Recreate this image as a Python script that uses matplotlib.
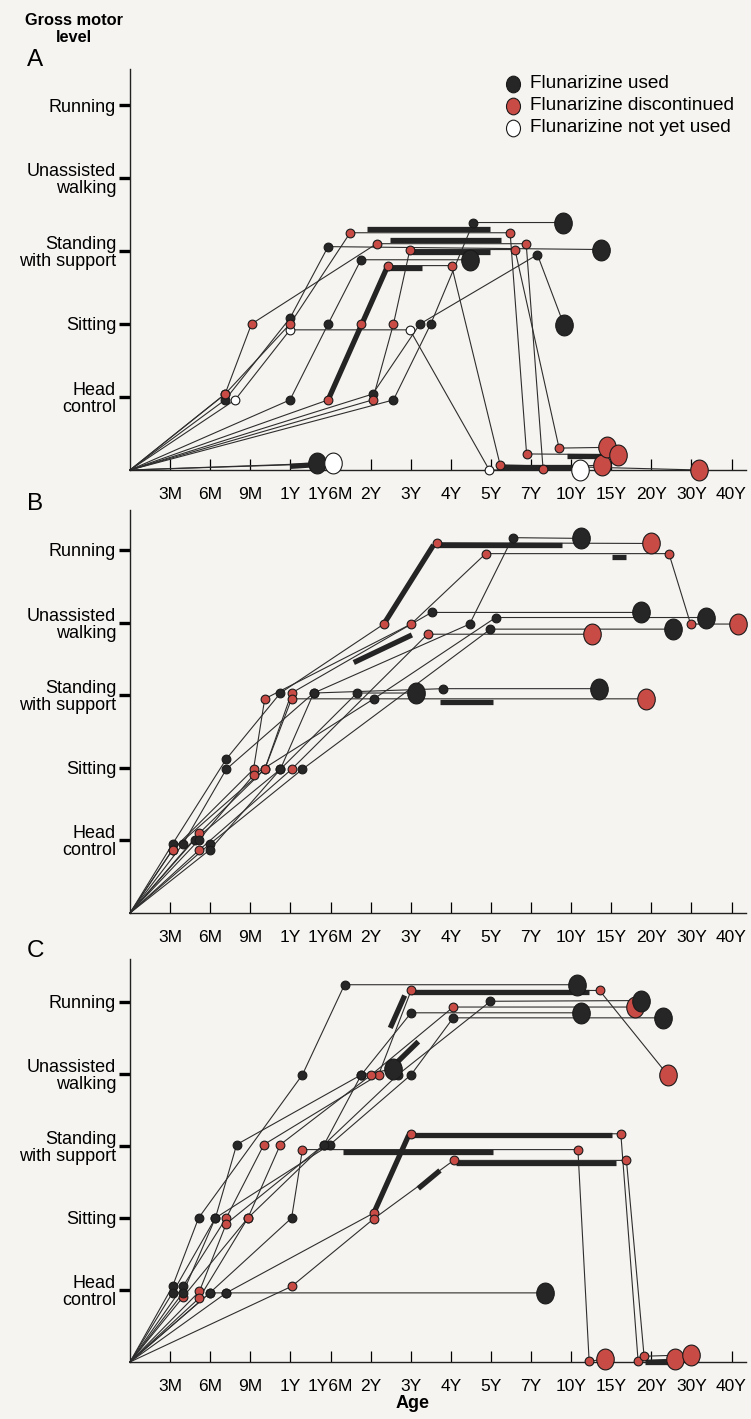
import matplotlib
matplotlib.use('Agg')
import matplotlib.pyplot as plt
from matplotlib.path import Path

plt.rcParams['font.family'] = ['Liberation Sans', 'DejaVu Sans']

# ejes: edad (posicion de categoria) y nivel motor
ages = ['3M', '6M', '9M', '1Y', '1Y6M', '2Y', '3Y', '4Y', '5Y', '7Y',
        '10Y', '15Y', '20Y', '30Y', '40Y']
levels = ['Head\ncontrol', 'Sitting', 'Standing\nwith support',
          'Unassisted\nwalking', 'Running']

# cada paciente: puntos (edad, nivel, estado); todos salen del origen
# k/r/w = punto pequeno (usado / suspendido / no usado), K/R/W = punto final grande
a_paths = [
    [(2.37, 0.96, 'k'), (3.99, 2.08, 'k'), (4.94, 3.06, 'k'), (11.75, 3.02, 'K')],
    [(2.37, 1.04, 'r'), (3.03, 2.0, 'r'), (6.15, 3.1, 'r'), (9.88, 3.1, 'r'), (10.3, 0.02, 'r'), (11.76, 0.07, 'R')],
    [(2.62, 0.96, 'w'), (3.99, 1.92, 'w'), (6.98, 1.92, 'w'), (8.96, 0.0, 'w'), (11.22, 0.0, 'W')],
    [(3.99, 0.96, 'k'), (4.94, 2.0, 'k'), (5.76, 2.88, 'k'), (8.48, 2.88, 'K')],
    [(4.94, 0.96, 'r'), (5.76, 2.0, 'r'), (6.43, 2.8, 'r'), (8.02, 2.8, 'r'), (9.23, 0.07, 'r'), (14.19, 0.0, 'R')],
    [(6.05, 1.04, 'k'), (7.23, 2.0, 'k'), (10.16, 2.95, 'k'), (10.82, 1.99, 'K')],
    [(6.05, 0.96, 'r'), (6.57, 2.0, 'r'), (6.98, 3.02, 'r'), (9.6, 3.02, 'r'), (10.7, 0.3, 'r'), (11.89, 0.31, 'R')],
    [(6.57, 0.96, 'k'), (7.5, 2.0, 'k'), (8.56, 3.39, 'k'), (10.8, 3.39, 'K')],
    [(2.37, 1.04, 'r'), (3.99, 2.0, 'r'), (5.49, 3.25, 'r'), (9.48, 3.25, 'r'), (9.89, 0.22, 'r'), (12.16, 0.21, 'R')],
    [(4.66, 0.09, 'K')],
    [(5.07, 0.09, 'W')],
]
# tramos gruesos (x0, y0, x1, y1)
a_bars = [
    (5.9, 3.3, 8.98, 3.3),
    (6.48, 3.15, 9.24, 3.15),
    (7.02, 2.99, 8.98, 2.99),
    (6.43, 2.77, 7.27, 2.77),
    (4.94, 0.96, 6.43, 2.8),
    (9.14, 0.04, 11.22, 0.04),
    (10.89, 0.19, 11.8, 0.19),
    (3.99, 0.05, 4.55, 0.07),
]

b_paths = [
    [(1.06, 0.95, 'k'), (2.4, 2.12, 'k'), (3.75, 3.03, 'k'), (6.33, 3.98, 'r'), (7.65, 5.1, 'r'), (13.0, 5.09, 'R')],
    [(1.06, 0.87, 'r'), (3.08, 1.98, 'r'), (3.36, 2.95, 'r'), (7.01, 3.98, 'r'), (8.87, 4.95, 'r'), (13.44, 4.95, 'r'), (13.98, 3.98, 'r'), (15.15, 3.98, 'R')],
    [(1.32, 0.95, 'k'), (2.4, 1.98, 'k'), (4.58, 3.03, 'k'), (8.47, 3.98, 'k'), (9.54, 5.17, 'k'), (11.24, 5.16, 'K')],
    [(1.61, 1.01, 'k'), (3.75, 1.98, 'k'), (5.66, 3.03, 'k'), (7.13, 3.03, 'K')],
    [(1.73, 1.1, 'r'), (3.36, 1.98, 'r'), (4.03, 3.03, 'r'), (7.52, 4.14, 'k'), (12.74, 4.14, 'K')],
    [(1.71, 1.0, 'k'), (3.08, 1.9, 'r'), (6.08, 2.95, 'k'), (9.12, 4.07, 'k'), (14.37, 4.07, 'K')],
    [(1.73, 0.87, 'r'), (4.03, 1.98, 'r'), (7.42, 3.84, 'r'), (11.53, 3.84, 'R')],
    [(1.99, 0.95, 'k'), (4.3, 1.98, 'k'), (8.99, 3.91, 'k'), (13.55, 3.91, 'K')],
    [(1.99, 0.87, 'k'), (3.75, 1.98, 'k'), (4.58, 3.03, 'k'), (7.81, 3.09, 'k'), (11.69, 3.09, 'K')],
    [(1.06, 0.87, 'r'), (3.36, 1.98, 'r'), (4.03, 2.95, 'r'), (12.88, 2.95, 'R')],
]
b_bars = [
    (6.33, 3.98, 7.57, 5.07),
    (7.65, 5.07, 10.78, 5.07),
    (12.02, 4.9, 12.38, 4.9),
    (5.58, 3.45, 7.03, 3.83),
    (7.73, 2.91, 9.05, 2.91),
]

c_paths = [
    [(1.06, 1.05, 'k'), (1.71, 2.0, 'k'), (4.3, 3.99, 'k'), (5.35, 5.24, 'k'), (11.14, 5.24, 'K')],
    [(1.06, 0.96, 'k'), (2.13, 2.0, 'k'), (2.66, 3.02, 'k'), (5.77, 3.99, 'k'), (7.01, 4.85, 'k'), (11.24, 4.85, 'K')],
    [(1.32, 1.05, 'k'), (2.4, 2.0, 'r'), (3.34, 3.02, 'r'), (6.2, 3.99, 'r'), (7.01, 5.16, 'r'), (11.71, 5.16, 'r'), (13.42, 3.98, 'R')],
    [(1.32, 0.9, 'r'), (2.94, 2.0, 'r'), (3.75, 3.02, 'r'), (6.02, 3.99, 'r'), (8.06, 4.93, 'r'), (12.59, 4.93, 'R')],
    [(1.73, 0.98, 'r'), (2.4, 1.92, 'r'), (4.84, 3.02, 'k'), (6.68, 3.99, 'k'), (8.99, 5.01, 'k'), (12.74, 5.02, 'K')],
    [(1.99, 0.96, 'k'), (4.03, 2.0, 'k'), (4.3, 2.95, 'r'), (11.17, 2.95, 'r'), (11.45, 0.01, 'r'), (11.84, 0.04, 'R')],
    [(2.4, 0.96, 'k'), (6.08, 2.07, 'r'), (7.01, 3.17, 'r'), (12.24, 3.17, 'r'), (12.67, 0.02, 'r'), (13.6, 0.04, 'R')],
    [(4.03, 1.05, 'r'), (6.08, 1.99, 'r'), (8.07, 2.8, 'r'), (12.38, 2.8, 'r'), (12.82, 0.08, 'r'), (13.98, 0.1, 'R')],
    [(1.99, 0.96, 'k'), (2.4, 0.96, 'k'), (10.34, 0.96, 'K')],
    [(1.32, 0.96, 'k'), (2.13, 2.0, 'k'), (4.99, 3.02, 'k'), (7.01, 3.99, 'k'), (8.06, 4.78, 'k'), (13.28, 4.78, 'K')],
    [(1.73, 0.89, 'r'), (2.94, 2.0, 'r'), (4.84, 3.02, 'k'), (5.77, 3.99, 'k'), (6.57, 4.07, 'K')],
]
c_bars = [
    (7.01, 5.14, 11.45, 5.14),
    (6.49, 4.64, 6.85, 5.09),
    (6.49, 4.07, 7.19, 4.45),
    (7.01, 3.15, 12.02, 3.15),
    (6.08, 2.07, 6.95, 3.15),
    (5.3, 2.92, 9.05, 2.92),
    (8.12, 2.77, 12.12, 2.77),
    (7.19, 2.41, 7.73, 2.66),
    (12.84, 0.0, 13.57, 0.0),
]

bg = '#f6f4f0'
fill = {'k': '#262626', 'r': '#c94b45', 'w': '#ffffff'}
oval = Path(Path.unit_circle().vertices * [0.84, 1.0], Path.unit_circle().codes)

fig = plt.figure(figsize=(7.51, 14.19), dpi=100, facecolor=bg)


def dibujar(ax, paths, bars, ytop):
    ax.set_facecolor(bg)
    for p in paths:
        xs = [0] + [q[0] for q in p]
        ys = [0] + [q[1] for q in p]
        ax.plot(xs, ys, color='#2e2e2e', lw=0.8, zorder=2, clip_on=False)
    for x0, y0, x1, y1 in bars:
        ax.plot([x0, x1], [y0, y1], color='#242424', lw=3.8,
                solid_capstyle='butt', zorder=3, clip_on=False)
    for p in paths:
        for x, y, s in p:
            grande = s.isupper()
            ax.plot(x, y, marker=oval if grande else 'o', ms=15 if grande else 6.3,
                    mfc=fill[s.lower()], mec='#1a1a1a', mew=0.8,
                    zorder=5 if grande else 4, clip_on=False)
    ax.set_xlim(0, 15.35)
    ax.set_ylim(0, ytop)
    ax.set_xticks(range(1, 16))
    ax.set_xticklabels(ages, fontsize=12.5)
    ax.set_yticks(range(1, 6))
    ax.set_yticklabels(levels, fontsize=13, linespacing=1.0)
    ax.tick_params(axis='x', direction='in', length=8, width=0.9, pad=12)
    ax.tick_params(axis='y', direction='out', length=8, width=2.4, pad=2)
    for side in ['top', 'right']:
        ax.spines[side].set_visible(False)
    for side in ['left', 'bottom']:
        ax.spines[side].set_linewidth(1.0)
        ax.spines[side].set_color('#222222')


left = 130 / 751
width = 15.35 * 40.1 / 751
axA = fig.add_axes([left, (1419 - 470) / 1419, width, 5.5 * 73 / 1419])
axB = fig.add_axes([left, (1419 - 913) / 1419, width, 5.55 * 72.6 / 1419])
axC = fig.add_axes([left, (1419 - 1362) / 1419, width, 5.6 * 72 / 1419])
dibujar(axA, a_paths, a_bars, 5.5)
dibujar(axB, b_paths, b_bars, 5.55)
dibujar(axC, c_paths, c_bars, 5.6)

# titulos y letras de panel
fig.text(74 / 751, 1 - 29 / 1419, 'Gross motor\nlevel', ha='center', va='center',
         fontsize=11.8, fontweight='bold', linespacing=1.1)
for letra, yp in [('A', 60), ('B', 504), ('C', 951)]:
    fig.text(27 / 751, 1 - yp / 1419, letra, ha='left', va='center', fontsize=17.5)
fig.text(413 / 751, 1 - 1404 / 1419, 'Age', ha='center', va='center',
         fontsize=13, fontweight='bold')

# leyenda
leyenda = [('k', 'Flunarizine used'), ('r', 'Flunarizine discontinued'),
           ('w', 'Flunarizine not yet used')]
for i, (s, txt) in enumerate(leyenda):
    yy = 1 - (84 + 22 * i) / 1419
    axA.plot([513 / 751], [yy], marker=oval, ms=12, mfc=fill[s], mec='#1a1a1a',
             mew=0.8, transform=fig.transFigure, clip_on=False, zorder=6)
    fig.text(530 / 751, yy, txt, ha='left', va='center', fontsize=13.7)

plt.savefig('out.png', dpi=100, facecolor=bg)
print('listo')
